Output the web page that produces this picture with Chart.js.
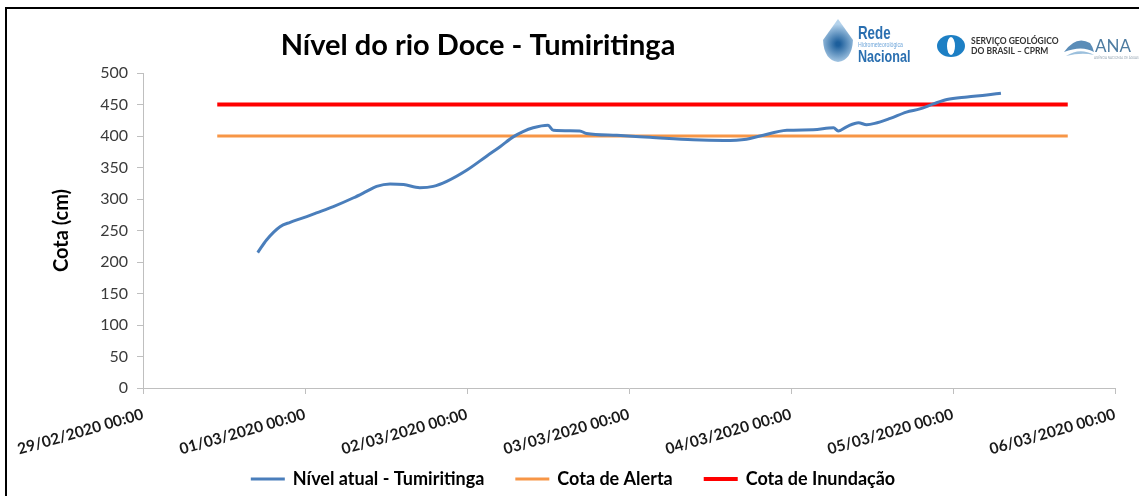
<!DOCTYPE html>
<html>
<head>
<meta charset="utf-8">
<script src="https://cdn.jsdelivr.net/npm/chart.js@4/dist/chart.umd.min.js"></script>
<style>
  html, body { margin: 0; padding: 0; background: #fff; overflow: hidden; }
</style>
</head>
<body>
<canvas id="chart" width="1139" height="496"></canvas>
<script>
// hours since 29/02/2020 00:00
const levelHours = [17, 18.3, 20.3, 21.8, 23.7, 25.7, 28.2, 31.2, 33.1, 34.6, 36.6, 38.6, 41, 43, 45,
  48, 50.9, 52.9, 54.9, 56.3, 57.8, 60, 60.8, 64.7, 65.7, 70.2, 75.1, 81.5, 86, 89.4, 91.4, 95.4,
  99.3, 102.3, 103, 104.3, 106, 107.2, 108.4, 110.7, 113.1, 115.1, 117.1, 119.1, 122.1, 125, 127.1];
const levelValues = [215, 235, 256, 263, 270, 278, 288, 302, 312, 320, 324, 323, 318, 320, 328,
  346, 368, 383, 399, 407, 413, 417, 409, 408, 404, 401, 398, 394, 393, 395, 400, 409,
  410, 413, 408, 415, 421, 418, 420, 428, 438, 443, 451, 458, 462, 465, 468];

const refHours = [11, 137];
const alertValues = [400, 400];
const floodValues = [450, 450];

const xTickLabels = ['29/02/2020 00:00', '01/03/2020 00:00', '02/03/2020 00:00', '03/03/2020 00:00',
  '04/03/2020 00:00', '05/03/2020 00:00', '06/03/2020 00:00'];

const seriesNames = ['Nível atual - Tumiritinga', 'Cota de Alerta', 'Cota de Inundação'];
const seriesColors = ['#4a7ebb', '#f79646', '#ff0000'];
const seriesWidths = [3, 3, 4];
const FONT = 'Lato';

function toPoints(xs, ys) {
  return xs.map((x, i) => ({ x: x, y: ys[i] }));
}

// frame, title, logos and legend
const decorations = {
  id: 'decorations',
  beforeDraw(chart) {
    const c = chart.ctx;
    c.save();
    c.fillStyle = '#fff';
    c.fillRect(0, 0, chart.width, chart.height);
    c.fillStyle = '#000';
    c.fillRect(5, 7, 1139, 2);
    c.fillRect(5, 7, 2, 500);
    c.restore();
  },
  afterDraw(chart) {
    const c = chart.ctx;
    c.save();
    // title
    c.fillStyle = '#000';
    c.font = 'bold 29px ' + FONT;
    c.textAlign = 'center';
    c.textBaseline = 'alphabetic';
    c.fillText('Nível do rio Doce - Tumiritinga', 478, 55);

    // Rede Hidrometeorológica Nacional
    const g = c.createRadialGradient(838, 44, 2, 838, 44, 20);
    g.addColorStop(0, '#1d5f9c');
    g.addColorStop(1, '#b5d3ec');
    c.fillStyle = g;
    c.beginPath();
    c.moveTo(838, 19);
    c.lineTo(853, 40);
    c.quadraticCurveTo(852, 60, 838, 62);
    c.quadraticCurveTo(824, 60, 823, 40);
    c.closePath();
    c.fill();
    c.textAlign = 'left';
    c.fillStyle = '#2a6fb0';
    c.save();
    c.translate(858, 0);
    c.scale(0.74, 1);
    c.font = 'bold 18px "Liberation Sans", sans-serif';
    c.fillText('Rede', 0, 39);
    c.font = 'bold 17px "Liberation Sans", sans-serif';
    c.fillText('Nacional', 0, 62);
    c.fillStyle = '#6fa6da';
    c.font = '7px "Liberation Sans", sans-serif';
    c.fillText('Hidrometeorológica', 0, 47);
    c.restore();

    // CPRM
    c.fillStyle = '#1d7fc4';
    c.beginPath();
    c.ellipse(951, 46, 14, 11, 0, 0, Math.PI * 2);
    c.fill();
    c.fillStyle = '#fff';
    c.beginPath();
    c.ellipse(951, 46, 4, 9, 0, 0, Math.PI * 2);
    c.fill();
    c.fillStyle = '#333';
    c.font = 'bold 8.5px ' + FONT;
    c.fillText('SERVIÇO GEOLÓGICO', 971, 44);
    c.fillText('DO BRASIL – CPRM', 971, 54);

    // ANA
    c.fillStyle = '#5b8db8';
    c.beginPath();
    c.moveTo(1064, 52);
    c.quadraticCurveTo(1076, 35, 1090, 43);
    c.quadraticCurveTo(1093, 47, 1094, 52);
    c.quadraticCurveTo(1082, 45, 1064, 52);
    c.fill();
    c.fillStyle = '#9cc0dd';
    c.beginPath();
    c.moveTo(1066, 56);
    c.quadraticCurveTo(1080, 47, 1094, 55);
    c.quadraticCurveTo(1082, 52, 1066, 56);
    c.fill();
    c.fillStyle = '#4e7ca1';
    c.font = '17px ' + FONT;
    c.fillText('ANA', 1095, 52);
    c.fillStyle = '#9aa9b6';
    c.font = '3px ' + FONT;
    c.fillText('AGÊNCIA NACIONAL DE ÁGUAS', 1094, 59);

    // legend
    c.font = 'bold 18px ' + FONT;
    c.textBaseline = 'middle';
    const swatch = 34, gap = 8, spacing = 31, legendY = 479;
    const widths = seriesNames.map(n => swatch + gap + c.measureText(n).width);
    const total = widths.reduce((a, b) => a + b, 0) + spacing * (widths.length - 1);
    let x = 573 - total / 2;
    seriesNames.forEach((name, i) => {
      c.strokeStyle = seriesColors[i];
      c.lineWidth = seriesWidths[i];
      c.beginPath();
      c.moveTo(x, legendY);
      c.lineTo(x + swatch, legendY);
      c.stroke();
      c.fillStyle = '#000';
      c.fillText(name, x + swatch + gap, legendY);
      x += widths[i] + spacing;
    });
    c.restore();
  }
};

new Chart(document.getElementById('chart'), {
  type: 'line',
  data: {
    datasets: seriesNames.map((name, i) => ({
      label: name,
      data: i === 0 ? toPoints(levelHours, levelValues)
        : toPoints(refHours, i === 1 ? alertValues : floodValues),
      borderColor: seriesColors[i],
      backgroundColor: seriesColors[i],
      borderWidth: seriesWidths[i],
      pointRadius: 0,
      cubicInterpolationMode: 'monotone'
    }))
  },
  options: {
    responsive: false,
    animation: false,
    devicePixelRatio: 1,
    layout: { padding: { left: 31, right: 24, top: 73, bottom: 38 } },
    plugins: {
      tooltip: { enabled: false },
      legend: { display: false }
    },
    scales: {
      x: {
        type: 'linear',
        min: 0,
        max: 144,
        afterFit(scale) { scale.height = 70; },
        border: { color: '#bfbfbf', width: 1 },
        grid: { drawOnChartArea: false, drawTicks: true, tickLength: 6, color: '#bfbfbf' },
        ticks: {
          stepSize: 24,
          autoSkip: false,
          minRotation: 16,
          maxRotation: 16,
          padding: 11,
          color: '#1a1a1a',
          font: { family: FONT, size: 15.5, weight: 'bold' },
          callback: (value) => xTickLabels[value / 24]
        }
      },
      y: {
        min: 0,
        max: 500,
        afterFit(scale) { scale.width = 112; },
        border: { color: '#bfbfbf', width: 1 },
        grid: { drawOnChartArea: false, drawTicks: true, tickLength: 6, color: '#bfbfbf' },
        ticks: {
          stepSize: 50,
          padding: 9,
          color: '#3a3a3a',
          font: { family: FONT, size: 16 }
        },
        title: {
          display: true,
          text: 'Cota (cm)',
          color: '#000',
          padding: { top: 19, bottom: 0 },
          font: { family: FONT, size: 20, weight: 'bold' }
        }
      }
    }
  },
  plugins: [decorations]
});
</script>
</body>
</html>
